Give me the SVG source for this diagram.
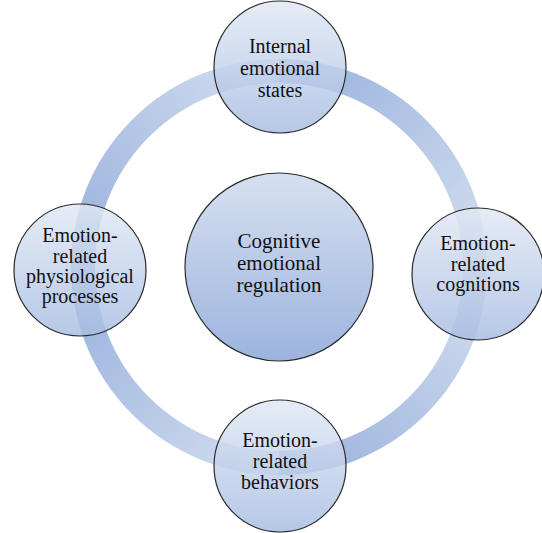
<svg xmlns="http://www.w3.org/2000/svg" width="542" height="533" viewBox="0 0 542 533">
  <defs>
    <linearGradient id="gTL" gradientUnits="userSpaceOnUse" x1="83" y1="267" x2="279" y2="71">
      <stop offset="0" stop-color="#98b1dd"/>
      <stop offset="1" stop-color="#d3deef"/>
    </linearGradient>
    <linearGradient id="gTR" gradientUnits="userSpaceOnUse" x1="279" y1="71" x2="475" y2="267">
      <stop offset="0" stop-color="#98b1dd"/>
      <stop offset="1" stop-color="#d3deef"/>
    </linearGradient>
    <linearGradient id="gBR" gradientUnits="userSpaceOnUse" x1="475" y1="267" x2="279" y2="463">
      <stop offset="0" stop-color="#d3deef"/>
      <stop offset="1" stop-color="#98b1dd"/>
    </linearGradient>
    <linearGradient id="gBL" gradientUnits="userSpaceOnUse" x1="83" y1="267" x2="279" y2="463">
      <stop offset="0" stop-color="#98b1dd"/>
      <stop offset="1" stop-color="#d3deef"/>
    </linearGradient>
    <linearGradient id="gNode" x1="0" y1="0" x2="0" y2="1">
      <stop offset="0" stop-color="#e1e8f4"/>
      <stop offset="1" stop-color="#a6bce2"/>
    </linearGradient>
    <linearGradient id="gCenter" x1="0" y1="0" x2="0" y2="1">
      <stop offset="0" stop-color="#d6e0f0"/>
      <stop offset="1" stop-color="#9cb4de"/>
    </linearGradient>
  </defs>
  <style>
    .arc { fill: none; stroke-width: 24; }
    .node { fill: url(#gNode); fill-opacity: 0.82; stroke: #2b2b2b; stroke-width: 1.2; }
    .center { fill: url(#gCenter); stroke: #2b2b2b; stroke-width: 1.2; }
    .t { font-size: 20px; fill: #111; text-anchor: middle; }
    .tc { font-size: 21px; fill: #111; text-anchor: middle; }
  </style>
  <rect width="542" height="533" fill="#ffffff"/>
  <g id="connectors">
    <path class="arc" stroke="url(#gTL)" d="M83 267 A196 196 0 0 1 279 71"/>
    <path class="arc" stroke="url(#gTR)" d="M279 71 A196 196 0 0 1 475 267"/>
    <path class="arc" stroke="url(#gBR)" d="M475 267 A196 196 0 0 1 279 463"/>
    <path class="arc" stroke="url(#gBL)" d="M279 463 A196 196 0 0 1 83 267"/>
  </g>
  <g id="node-center" font-family="'Liberation Serif', 'DejaVu Serif', serif">
    <circle class="center" cx="279" cy="267" r="94"/>
    <text class="tc" x="279" y="248">Cognitive</text>
    <text class="tc" x="279" y="270">emotional</text>
    <text class="tc" x="279" y="292">regulation</text>
  </g>
  <g id="node-top" font-family="'Liberation Serif', 'DejaVu Serif', serif">
    <circle class="node" cx="280" cy="67" r="66"/>
    <text class="t" x="280" y="53">Internal</text>
    <text class="t" x="280" y="75">emotional</text>
    <text class="t" x="280" y="97">states</text>
  </g>
  <g id="node-right" font-family="'Liberation Serif', 'DejaVu Serif', serif">
    <circle class="node" cx="478" cy="274" r="66"/>
    <text class="t" x="478" y="250">Emotion-</text>
    <text class="t" x="478" y="271">related</text>
    <text class="t" x="478" y="291">cognitions</text>
  </g>
  <g id="node-bottom" font-family="'Liberation Serif', 'DejaVu Serif', serif">
    <circle class="node" cx="280" cy="466" r="66"/>
    <text class="t" x="280" y="447">Emotion-</text>
    <text class="t" x="280" y="468">related</text>
    <text class="t" x="280" y="489">behaviors</text>
  </g>
  <g id="node-left" font-family="'Liberation Serif', 'DejaVu Serif', serif">
    <circle class="node" cx="80" cy="270" r="66"/>
    <text class="t" x="80" y="242">Emotion-</text>
    <text class="t" x="80" y="263">related</text>
    <text class="t" x="80" y="283">physiological</text>
    <text class="t" x="80" y="303">processes</text>
  </g>
</svg>
